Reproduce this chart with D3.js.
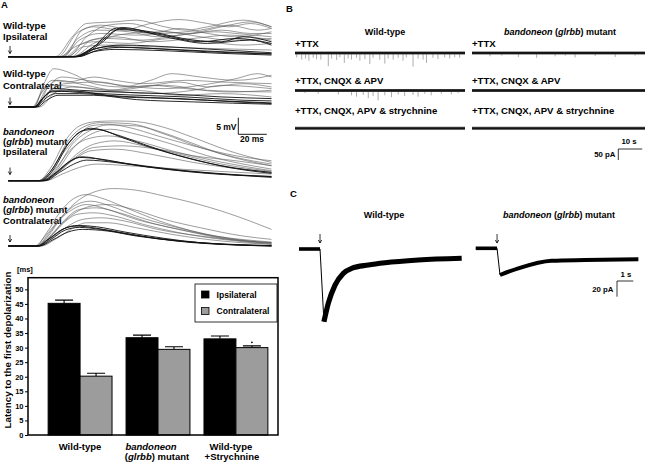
<!DOCTYPE html>
<html><head><meta charset="utf-8">
<script src="https://cdn.jsdelivr.net/npm/d3@7"></script>
<style>
body{margin:0;background:#fff}
svg text{font-family:"Liberation Sans",Arial,Helvetica,sans-serif;font-weight:bold;fill:#000}
</style></head><body>
<svg id="fig" width="645" height="462"></svg>
<script>
// ================= DATA =================
// Panel A traces: each trace is [[time ms, potential mV], ...]
const wtIpsiThick = [
 [[0,0],[45,0],[60,3],[76,8.6],[100,7.5],[130,5],[150,4.5],[165,6],[185,4.5]],
 [[0,0],[47,0],[62,3.5],[78,8.2],[105,6.8],[135,4.5],[160,5.5],[185,4]],
 [[0,0],[48,0],[65,4],[80,8.8],[110,6],[140,4],[170,5],[185,3.5]],
 [[0,0],[46,0],[58,2],[70,3],[100,2.5],[140,1.5],[185,0.8]],
 [[0,0],[48,0],[60,1.5],[75,2.2],[110,1.8],[150,1],[185,0.5]],
 [[0,0],[47,0],[62,2.5],[80,3.5],[120,2.8],[160,1.8],[185,1.2]],
 [[0,0],[49,0],[63,2],[78,2.8],[115,2.2],[155,1.4],[185,0.9]]
];
const wtIpsiThin = [
 [[0,0],[33,0],[45,6],[55,10],[75,10.5],[90,11],[110,9],[125,8],[140,9],[165,11],[185,9]],
 [[0,0],[35,0],[48,7],[60,9],[80,8],[100,10],[120,11.2],[140,10],[155,9],[170,10],[185,8.5]],
 [[0,0],[38,0],[50,5],[65,7],[90,6.5],[110,7],[135,8],[155,9.5],[175,8],[185,8.5]],
 [[0,0],[40,0],[52,4],[68,5.5],[95,5],[120,6.5],[145,7.5],[160,7],[185,6]],
 [[0,0],[42,0],[55,6],[70,9.5],[85,10],[105,8],[125,7],[150,9],[170,10.5],[185,9]],
 [[0,0],[44,0],[58,5],[75,6],[100,4.5],[130,5.5],[155,6.5],[185,5]],
 [[0,0],[36,0],[47,3],[60,4.5],[85,4],[115,5.5],[140,4.5],[165,3.5],[185,4]],
 [[0,0],[39,0],[52,8],[65,9.5],[80,8.5],[100,7],[120,8.5],[140,7],[160,6],[185,7.5]],
 [[0,0],[45,0],[60,4],[85,7],[110,7.5],[135,6],[155,5],[185,5.5]],
 [[0,0],[41,0],[53,3],[70,3.5],[100,3],[140,2.5],[185,2]],
 [[0,0],[37,0],[49,5.5],[62,8],[85,7.5],[105,6],[130,7],[150,8],[170,7],[185,7]]
];
const wtContraThick = [
 [[0,0],[18,0],[24,2.5],[30,4.5],[45,4.8],[70,3.5],[100,2.8],[140,2],[185,1.2]],
 [[0,0],[19,0],[26,2.5],[33,4],[50,4],[80,3],[120,2.5],[160,1.5],[185,1]],
 [[0,0],[20,0],[27,2],[35,3.5],[60,3.5],[90,2.2],[130,1.5],[185,0.8]],
 [[0,0],[18,0],[25,3],[32,5.5],[50,5],[75,4.5],[110,4],[150,3],[185,2.5]],
 [[0,0],[19,0],[25,2.8],[31,4.8],[55,4.2],[85,3.6],[125,3],[165,2],[185,1.8]]
];
const wtContraThin = [
 [[0,0],[18,0],[25,7],[32,11.5],[45,10],[60,7],[80,6],[100,8],[115,10],[135,9],[160,8],[185,9.5]],
 [[0,0],[19,0],[26,5],[35,8],[55,6.5],[75,5],[95,6],[120,7.5],[140,6],[165,7],[185,6]],
 [[0,0],[20,0],[28,6],[38,9],[55,8],[80,6.5],[110,5.5],[135,6.5],[160,8.5],[175,10],[185,9]],
 [[0,0],[17,0],[23,4],[30,6.5],[50,6],[70,5],[100,4],[130,5],[150,6.5],[185,5.5]],
 [[0,0],[21,0],[30,5],[40,7],[65,7.5],[85,6],[110,6.5],[140,5],[185,4.5]],
 [[0,0],[19,0],[25,3],[33,5],[60,4.5],[90,5],[120,3.5],[150,4],[185,3]],
 [[0,0],[22,0],[32,4],[45,6],[70,5],[100,6.5],[125,5.5],[155,4.5],[185,5]],
 [[0,0],[18,0],[24,5],[31,8],[42,7.5],[60,9],[75,8],[95,7],[125,8],[150,7.5],[185,7]]
];
const mutIpsiThick = [
 [[0,0],[24,0],[32,2],[42,5.5],[50,7],[65,6.5],[85,5],[110,3.5],[140,2.2],[185,1.3]],
 [[0,0],[25,0],[34,2.5],[44,6],[52,7.2],[70,6],[95,4.5],[125,3],[160,1.8],[185,1.2]],
 [[0,0],[26,0],[36,2.5],[46,5],[55,6.2],[75,5.5],[100,4],[135,2.5],[185,1]],
 [[0,0],[22,0],[30,3],[40,10],[50,14.5],[58,15.8],[75,14],[95,11],[120,7.5],[150,4.5],[185,2.5]],
 [[0,0],[23,0],[32,3.5],[42,11],[52,15],[62,15.5],[80,13],[100,10],[125,7],[155,4],[185,2.2]]
];
const mutIpsiThin = [
 [[0,0],[21,0],[30,4],[40,12],[50,16.5],[62,17.8],[75,18],[90,17.8],[110,16],[130,13],[155,9],[185,5.5]],
 [[0,0],[22,0],[31,3.5],[42,12],[52,16],[65,17.5],[85,17.2],[105,15],[125,12],[150,8],[185,4.5]],
 [[0,0],[23,0],[33,3],[45,11],[57,15],[70,16.8],[90,16.5],[110,14],[135,10],[160,7],[185,5]],
 [[0,0],[24,0],[34,3],[46,10],[58,14],[72,15.5],[90,14],[115,11],[140,7.5],[185,3.5]],
 [[0,0],[22,0],[32,3],[43,9],[55,12.5],[70,13.5],[90,12],[115,9],[145,6],[185,3]],
 [[0,0],[25,0],[36,3],[48,8],[60,11],[75,12],[95,10.5],[120,8],[150,5],[185,2.8]],
 [[0,0],[23,0],[33,2],[45,6],[58,9],[75,9.5],[100,8],[130,5.5],[185,2.5]],
 [[0,0],[24,0],[35,2.5],[47,7],[60,10],[80,10.5],[105,9.5],[130,7.5],[160,6],[185,4.5]],
 [[0,0],[26,0],[38,2],[50,4],[62,5],[85,4.5],[120,3.5],[185,2]],
 [[0,0],[21,0],[29,2.5],[38,8],[48,13],[58,16.5],[70,17],[85,16],[105,13.5],[130,10.5],[160,7.5],[185,6]]
];
const mutContraThick = [
 [[0,0],[20,0],[28,2],[38,5],[48,6],[60,5.5],[80,4],[105,2.2],[130,1],[160,0.3],[185,0]],
 [[0,0],[21,0],[30,2],[40,4.8],[50,5.6],[65,5],[85,3.5],[110,2],[140,0.8],[185,0]],
 [[0,0],[22,0],[31,1.8],[42,4.2],[52,5],[70,4.5],[90,3],[120,1.5],[185,0.1]],
 [[0,0],[21,0],[29,2.2],[39,5.2],[49,6.2],[62,5.8],[82,4.2],[108,2.4],[135,1],[185,0.1]]
];
const mutContraThin = [
 [[0,0],[20,0],[28,3],[38,9],[50,14],[62,16.5],[74,17.3],[90,16.8],[110,15],[130,13],[150,10.5],[170,7.5],[185,5]],
 [[0,0],[19,0],[27,4],[36,10],[45,14],[55,15.5],[65,14.5],[80,12],[100,8.5],[125,5],[150,2.5],[185,1]],
 [[0,0],[20,0],[28,3.5],[38,9],[48,12.5],[58,13.5],[72,12],[90,9],[115,6],[140,3.5],[170,1.5],[185,1]],
 [[0,0],[21,0],[30,3],[40,8],[50,11],[62,11.5],[78,10],[100,7],[125,4.5],[155,2],[185,0.8]],
 [[0,0],[20,0],[29,2.5],[39,7],[48,9.5],[60,10],[75,9],[95,6.5],[120,4],[150,2],[185,0.5]],
 [[0,0],[22,0],[31,2.5],[42,6],[52,8],[65,8.5],[82,7.5],[105,5],[135,3],[185,0.8]],
 [[0,0],[19,0],[26,3],[35,7.5],[45,11],[55,12.5],[70,11],[90,8],[115,5.5],[145,3],[185,1.2]],
 [[0,0],[23,0],[33,2],[44,5],[55,7],[70,7],[90,5.5],[115,3.5],[150,1.5],[185,0.5]],
 [[0,0],[20,0],[28,2.5],[37,6.5],[47,10],[58,12],[70,12.5],[88,11],[110,8],[135,5.5],[165,3],[185,2]]
];

// Panel A bar chart
const groups = ["Wild-type", "bandoneon (glrbb) mutant", "Wild-type +Strychnine"];
const sides = ["Ipsilateral", "Contralateral"];
const ipsiMean = [45.2, 33.4, 33.0];
const ipsiSem = [1.1, 0.9, 1.0];
const contraMean = [20.2, 29.4, 30.0];
const contraSem = [1.0, 0.9, 0.6];
const markedGroup = ["Wild-type +Strychnine"];
const markedValue = [31.8];
const yTicks = [0, 5, 10, 15, 20, 25, 30, 35, 40, 45, 50];

// Panel B: miniature currents, events as [time s, amplitude pA]
const recLengthB = [71, 72];
const wtTTXEvents = [[0.7,20],[2.8,30],[4.4,25],[5.8,35],[7.6,22],[9.0,28],[10.8,30],[13.9,60],[15.3,25],[17.4,32],[18.75,20],[20.6,45],[22.2,25],[23.6,30],[25.7,22],[27.1,35],[29.2,28],[31.25,50],[32.6,22],[35.4,30],[37.5,48],[38.9,25],[41.0,30],[43.1,22],[45.1,35],[46.5,20],[49.3,62],[51.4,25],[53.5,30],[54.9,45],[57.6,22],[59.7,28],[62.5,20],[64.6,25],[66.7,20],[68.75,22]];
const wtCNQXEvents = [[4.2,12],[9.7,15],[18.1,18],[23.6,22],[25.7,28],[28.5,20],[30.6,35],[32.6,25],[34.7,45],[37.5,22],[40.3,30],[43.1,18],[45.8,25],[49.3,20],[51.4,28],[54.2,15],[56.9,22],[61.1,15],[65.3,18],[68.1,12]];
const wtStrychEvents = [];
const mutTTXEvents = [[7.5,15],[12.4,12],[19.3,18],[26.9,22],[34.6,15],[38.8,12],[42.9,20],[51.25,14],[59.6,18],[67.9,12]];
const mutCNQXEvents = [];
const mutStrychEvents = [];
const bRows = ["+TTX", "+TTX, CNQX & APV", "+TTX, CNQX, APV & strychnine"];

// Panel C: glycine-evoked currents [time s, current pA]
const wtGlyCurrent = [[0,0],[1.29,0],[1.53,-92.6],[1.8,-69],[2.21,-46],[2.72,-31],[3.23,-24.6],[4.25,-20.4],[5.28,-17.5],[7.32,-14],[9.98,-11.8]];
const mutGlyCurrent = [[0,0],[1.31,0],[1.49,-34],[2.61,-25.5],[4.66,-15.8],[6.7,-14.9],[9.98,-14]];

// ================= DRAWING =================
const svg = d3.select("#fig");

function multiText(x, y, segs, size, anchor) {
  const t = svg.append("text").attr("x", x).attr("y", y)
    .attr("font-size", size).attr("text-anchor", anchor || "start");
  segs.forEach(s => t.append("tspan").text(s[0]).attr("font-style", s[1] ? "italic" : "normal"));
  return t;
}
function arrow(x, y1, y2) {
  svg.append("line").attr("x1", x).attr("x2", x).attr("y1", y1).attr("y2", y2)
    .attr("stroke", "#000").attr("stroke-width", 0.8);
  svg.append("path").attr("d", `M${x-1.7},${y2-3} L${x},${y2} L${x+1.7},${y2-3}`)
    .attr("fill", "none").attr("stroke", "#000").attr("stroke-width", 0.8);
}

// Panel letters
svg.append("text").attr("x", 1).attr("y", 8).attr("font-size", 9.5).text("A");
svg.append("text").attr("x", 286).attr("y", 12).attr("font-size", 9.5).text("B");
svg.append("text").attr("x", 290).attr("y", 197).attr("font-size", 9.5).text("C");

// ---- Panel A traces ----
const tx = d3.scaleLinear().domain([0, 185]).range([8.3, 271.5]);
const panelsA = [
  {base: 56.7, thin: wtIpsiThin, thick: wtIpsiThick, labels: [[["Wild-type"]], [["Ipsilateral"]]], ly: [28.5, 39.5], arrow: [46, 53.5]},
  {base: 106.9, thin: wtContraThin, thick: wtContraThick, labels: [[["Wild-type"]], [["Contralateral"]]], ly: [77, 88.5], arrow: [97.5, 104.5]},
  {base: 180.7, thin: mutIpsiThin, thick: mutIpsiThick, labels: [[["bandoneon", true]], [["("], ["glrbb", true], [") mutant"]], [["Ipsilateral"]]], ly: [134.5, 144.5, 154.5], arrow: [167.5, 174.5]},
  {base: 246, thin: mutContraThin, thick: mutContraThick, labels: [[["bandoneon", true]], [["("], ["glrbb", true], [") mutant"]], [["Contralateral"]]], ly: [203, 213, 223.5], arrow: [235, 242]}
];
panelsA.forEach(p => {
  p.labels.forEach((segs, i) => multiText(3, p.ly[i], segs, 9.5));
  arrow(10, p.arrow[0], p.arrow[1]);
  const ty = d3.scaleLinear().domain([0, 5]).range([p.base, p.base - 16.6]);
  const line = d3.line().x(d => tx(d[0])).y(d => ty(d[1])).curve(d3.curveMonotoneX);
  svg.append("g").selectAll("path").data(p.thin).join("path")
    .attr("d", line).attr("fill", "none").attr("stroke", "#5a5a5a").attr("stroke-width", 0.6);
  svg.append("g").selectAll("path").data(p.thick).join("path")
    .attr("d", line).attr("fill", "none").attr("stroke", "#111").attr("stroke-width", 0.9);
});
// A scale bar: 5 mV / 20 ms
{
  const ty = d3.scaleLinear().domain([0, 5]).range([134.3, 117.7]);
  const x0 = 238.3;
  svg.append("path").attr("d", `M${x0},${ty(5)} L${x0},${ty(0)} L${x0 + (tx(20) - tx(0))},${ty(0)}`)
    .attr("fill", "none").attr("stroke", "#000").attr("stroke-width", 0.9);
  svg.append("text").attr("x", 236.5).attr("y", 130).attr("font-size", 8.5).attr("text-anchor", "end").text("5 mV");
  svg.append("text").attr("x", 252).attr("y", 141.7).attr("font-size", 8.5).attr("text-anchor", "middle").text("20 ms");
}

// ---- Bar chart ----
const y = d3.scaleLinear().domain([0, 54]).range([435, 277.7]);
const xg = d3.scaleBand().domain(groups).range([38, 278]).paddingInner(0.18).paddingOuter(0.13);
const xs = d3.scaleBand().domain(sides).range([0, xg.bandwidth()]);
const barData = [];
groups.forEach((g, i) => {
  barData.push({g, s: sides[0], v: ipsiMean[i], e: ipsiSem[i]});
  barData.push({g, s: sides[1], v: contraMean[i], e: contraSem[i]});
});
const fillOf = {"Ipsilateral": "#000", "Contralateral": "#9c9c9c"};
const bars = svg.append("g");
bars.selectAll("rect").data(barData).join("rect")
  .attr("x", d => xg(d.g) + xs(d.s)).attr("width", xs.bandwidth())
  .attr("y", d => y(d.v)).attr("height", d => y(0) - y(d.v))
  .attr("fill", d => fillOf[d.s]).attr("stroke", "#000").attr("stroke-width", 1);
bars.selectAll("path.err").data(barData).join("path").attr("class", "err")
  .attr("d", d => {
    const cx = xg(d.g) + xs(d.s) + xs.bandwidth() / 2;
    return `M${cx},${y(d.v)} L${cx},${y(d.v + d.e)} M${cx - 9},${y(d.v + d.e)} L${cx + 9},${y(d.v + d.e)}`;
  }).attr("stroke", "#000").attr("stroke-width", 1.1).attr("fill", "none");
markedGroup.forEach((g, i) => {
  svg.append("circle").attr("cx", xg(g) + xs(sides[1]) + xs.bandwidth() / 2).attr("cy", y(markedValue[i]))
    .attr("r", 0.9).attr("fill", "#000");
});
// frame
svg.append("rect").attr("x", 28).attr("y", y(54)).attr("width", 250).attr("height", y(0) - y(54))
  .attr("fill", "none").attr("stroke", "#000").attr("stroke-width", 1.5);
const yAxis = svg.append("g").attr("transform", "translate(28,0)")
  .call(d3.axisLeft(y).tickValues(yTicks).tickSize(3).tickPadding(1.5));
yAxis.select(".domain").remove();
yAxis.selectAll("line").attr("stroke-width", 1);
yAxis.selectAll("text").attr("font-size", 7.5).attr("font-family", null).attr("font-weight", "bold");
svg.append("text").attr("x", 17).attr("y", 272).attr("font-size", 7.5).text("[ms]");
svg.append("text").attr("transform", "translate(10.5,350) rotate(-90)").attr("text-anchor", "middle")
  .attr("font-size", 9.8).text("Latency to the first depolarization");
// category labels
const catLines = [
  [[[["Wild-type"]], 0]],
  [[[["bandoneon", true]], -7], [[["("], ["glrbb", true], [") mutant"]], -1]],
  [[[["Wild-type"]], -5], [[["+Strychnine"]], -4]]
];
groups.forEach((g, i) => {
  catLines[i].forEach((ln, j) => multiText(xg(g) + xg.bandwidth() / 2 + ln[1], 450 + j * 9.5, ln[0], 9.5, "middle"));
});
// legend
svg.append("rect").attr("x", 195).attr("y", 284).attr("width", 82).attr("height", 38)
  .attr("fill", "#fff").attr("stroke", "#000").attr("stroke-width", 0.8);
sides.forEach((s, i) => {
  svg.append("rect").attr("x", 201.5).attr("y", 291 + i * 16.5).attr("width", 7.5).attr("height", 7)
    .attr("fill", fillOf[s]).attr("stroke", "#000").attr("stroke-width", 0.8);
  svg.append("text").attr("x", 216.5).attr("y", 297.5 + i * 16.5).attr("font-size", 8.6).text(s);
});

// ---- Panel B ----
svg.append("text").attr("x", 385).attr("y", 35).attr("font-size", 9).attr("text-anchor", "middle").text("Wild-type");
multiText(560, 35, [["bandoneon", true], [" ("], ["glrbb", true], [") mutant"]], 9, "middle");
const bxL = d3.scaleLinear().domain([0, recLengthB[0]]).range([295, 465]);
const bxR = d3.scaleLinear().domain([0, recLengthB[1]]).range([472, 645]);
const rowY = [53, 90.5, 128.3];
const rowLabelY = [46.5, 84, 113.5];
const pA = d3.scaleLinear().domain([0, 50]).range([0, 11]);
const evL = [wtTTXEvents, wtCNQXEvents, wtStrychEvents];
const evR = [mutTTXEvents, mutCNQXEvents, mutStrychEvents];
bRows.forEach((lab, r) => {
  svg.append("text").attr("x", 295).attr("y", rowLabelY[r]).attr("font-size", 9.6).text(lab);
  svg.append("text").attr("x", 472).attr("y", rowLabelY[r]).attr("font-size", 9.6).text(lab);
  [[bxL, evL[r]], [bxR, evR[r]]].forEach(([sx, ev]) => {
    svg.append("g").selectAll("line").data(ev).join("line")
      .attr("x1", d => sx(d[0])).attr("x2", d => sx(d[0]))
      .attr("y1", rowY[r]).attr("y2", d => rowY[r] + pA(d[1]))
      .attr("stroke", "#8a8a8a").attr("stroke-width", 0.7);
    svg.append("line").attr("x1", sx(0)).attr("x2", sx(sx.domain()[1]))
      .attr("y1", rowY[r]).attr("y2", rowY[r]).attr("stroke", "#555").attr("stroke-width", 3);
    svg.append("line").attr("x1", sx(0)).attr("x2", sx(sx.domain()[1]))
      .attr("y1", rowY[r]).attr("y2", rowY[r]).attr("stroke", "#151515").attr("stroke-width", 1.8);
  });
});
// B scale bar 10 s / 50 pA
{
  const x0 = 618.3, y0 = 149;
  svg.append("path").attr("d", `M${x0 + bxL(10) - bxL(0)},${y0} L${x0},${y0} L${x0},${y0 + pA(50)}`)
    .attr("fill", "none").attr("stroke", "#000").attr("stroke-width", 0.8);
  svg.append("text").attr("x", 629).attr("y", 143.5).attr("font-size", 7.8).attr("text-anchor", "middle").text("10 s");
  svg.append("text").attr("x", 615.5).attr("y", 157).attr("font-size", 7.8).attr("text-anchor", "end").text("50 pA");
}

// ---- Panel C ----
svg.append("text").attr("x", 384).attr("y", 218.3).attr("font-size", 9).attr("text-anchor", "middle").text("Wild-type");
multiText(559, 218.3, [["bandoneon", true], [" ("], ["glrbb", true], [") mutant"]], 9, "middle");
const cTraces = [
  {data: wtGlyCurrent, x0: 299, base: 249, w: 5.2},
  {data: mutGlyCurrent, x0: 475.7, base: 248.3, w: 4}
];
cTraces.forEach(c => {
  const sx = d3.scaleLinear().domain([0, 10]).range([c.x0, c.x0 + 163]);
  const sy = d3.scaleLinear().domain([0, -20]).range([c.base, c.base + 15.7]);
  const onset = c.data.findIndex(d => d[1] !== 0) - 1;
  const minI = d3.minIndex(c.data, d => d[1]);
  const lin = d3.line().x(d => sx(d[0])).y(d => sy(d[1]));
  const smooth = d3.line().x(d => sx(d[0])).y(d => sy(d[1])).curve(d3.curveMonotoneX);
  svg.append("path").attr("d", lin(c.data.slice(0, onset + 1))).attr("stroke", "#000").attr("stroke-width", 3.6).attr("fill", "none");
  svg.append("path").attr("d", lin(c.data.slice(onset, minI + 1))).attr("stroke", "#000").attr("stroke-width", 1).attr("fill", "none");
  svg.append("path").attr("d", smooth(c.data.slice(minI))).attr("stroke", "#000").attr("stroke-width", c.w).attr("fill", "none");
  arrow(sx(c.data[onset][0]), 234, 243);
});
// C scale bar 1 s / 20 pA
{
  const x0 = 617, y0 = 281;
  svg.append("path").attr("d", `M${x0 + 16.3},${y0} L${x0},${y0} L${x0},${y0 + 15.7}`)
    .attr("fill", "none").attr("stroke", "#000").attr("stroke-width", 0.8);
  svg.append("text").attr("x", 626).attr("y", 277).attr("font-size", 7.8).attr("text-anchor", "middle").text("1 s");
  svg.append("text").attr("x", 613.5).attr("y", 291.7).attr("font-size", 7.8).attr("text-anchor", "end").text("20 pA");
}
</script>
</body></html>
